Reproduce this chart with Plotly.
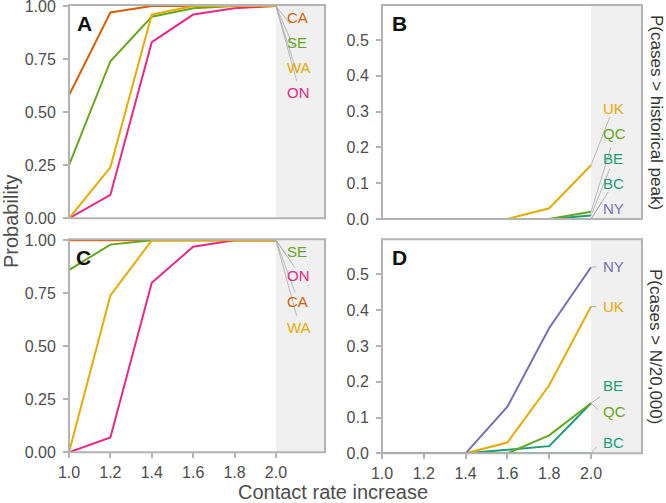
import plotly.graph_objects as go

# ---------------- data ----------------
x_rate = [1.0, 1.2, 1.4, 1.6, 1.8, 2.0]
x_ticks = [1.0, 1.2, 1.4, 1.6, 1.8, 2.0]
y_ticks_left = [0.0, 0.25, 0.5, 0.75, 1.0]
y_ticks_right = [0.0, 0.1, 0.2, 0.3, 0.4, 0.5]

# Panel A: P(cases > historical peak)
peak_CA = [0.58, 0.97, 1.00, 1.00, 1.00, 1.00]
peak_SE = [0.25, 0.74, 0.95, 0.99, 1.00, 1.00]
peak_ON = [0.00, 0.11, 0.83, 0.96, 0.99, 1.00]
peak_WA = [0.00, 0.24, 0.96, 1.00, 1.00, 1.00]
# Panel B: P(cases > historical peak)
peak_NY = [0.00, 0.00, 0.00, 0.00, 0.00, 0.00]
peak_BC = [0.00, 0.00, 0.00, 0.00, 0.00, 0.00]
peak_BE = [0.00, 0.00, 0.00, 0.00, 0.00, 0.01]
peak_QC = [0.00, 0.00, 0.00, 0.00, 0.00, 0.02]
peak_UK = [0.00, 0.00, 0.00, 0.00, 0.03, 0.15]
# Panel C: P(cases > N/20,000)
n20k_CA = [1.00, 1.00, 1.00, 1.00, 1.00, 1.00]
n20k_SE = [0.86, 0.98, 1.00, 1.00, 1.00, 1.00]
n20k_ON = [0.00, 0.07, 0.80, 0.97, 1.00, 1.00]
n20k_WA = [0.00, 0.74, 1.00, 1.00, 1.00, 1.00]
# Panel D: P(cases > N/20,000)
n20k_BC = [0.00, 0.00, 0.00, 0.00, 0.00, 0.00]
n20k_BE = [0.00, 0.00, 0.00, 0.01, 0.02, 0.14]
n20k_QC = [0.00, 0.00, 0.00, 0.00, 0.05, 0.14]
n20k_UK = [0.00, 0.00, 0.00, 0.03, 0.19, 0.41]
n20k_NY = [0.00, 0.00, 0.00, 0.13, 0.35, 0.52]

# ---------------- styles ----------------
COL = {"CA": "#d95f02", "SE": "#66a61e", "WA": "#e6ab02", "ON": "#e7298a",
       "NY": "#7570b3", "BE": "#1b9e77", "BC": "#1b9e77", "QC": "#66a61e",
       "UK": "#e6ab02"}
FONT = "Liberation Sans, Arial, Helvetica, sans-serif"
W, H = 666, 503
FRAME = "#b3b3b3"
SHADE = "#f0f0f0"
TXT = "#4d4d4d"


def px(p):
    return p / W


def py(p):
    return 1 - p / H


# panels: (axis suffix, series dict, label layout {name: (label_y, seg_x, seg_y)})
panels = [
    ("", {"CA": peak_CA, "SE": peak_SE, "ON": peak_ON, "WA": peak_WA},
     {"CA": (0.945, 2.068, 0.915), "SE": (0.828, 2.084, 0.81),
      "WA": (0.711, 2.10, 0.69), "ON": (0.594, 2.10, 0.648)}),
    ("2", {"NY": peak_NY, "BC": peak_BC, "BE": peak_BE, "QC": peak_QC, "UK": peak_UK},
     {"UK": (0.309, 2.09, 0.285), "QC": (0.239, 2.095, 0.20),
      "BE": (0.170, 2.09, 0.14), "BC": (0.100, 2.083, 0.076),
      "NY": (0.030, 2.051, 0.048)}),
    ("3", {"CA": n20k_CA, "SE": n20k_SE, "ON": n20k_ON, "WA": n20k_WA},
     {"SE": (0.946, 2.05, 0.934), "ON": (0.832, 2.092, 0.871),
      "CA": (0.712, 2.092, 0.754), "WA": (0.590, 2.10, 0.645)}),
    ("4", {"BC": n20k_BC, "BE": n20k_BE, "QC": n20k_QC, "UK": n20k_UK, "NY": n20k_NY},
     {"NY": (0.521, 2.027, 0.521), "UK": (0.410, 2.027, 0.410),
      "BE": (0.189, 2.043, 0.158), "QC": (0.118, 2.035, 0.121),
      "BC": (0.031, 2.027, 0.018)}),
]

fig = go.Figure()
shapes = []
annotations = []

for suf, series, labels in panels:
    xa, ya = "x" + suf, "y" + suf
    for name, vals in series.items():
        fig.add_trace(go.Scatter(x=x_rate, y=vals, mode="lines", xaxis=xa, yaxis=ya,
                                 line=dict(color=COL[name], width=2),
                                 showlegend=False, hoverinfo="x+y+name", name=name))
    # shaded region beyond last contact-rate value
    shapes.append(dict(type="rect", xref=xa, yref=ya + " domain", x0=x_rate[-1], x1=2.3,
                       y0=0, y1=1, fillcolor=SHADE, line=dict(width=0), layer="below"))
    # leader segments + labels
    for name, (ly, sx, sy) in labels.items():
        shapes.append(dict(type="line", xref=xa, yref=ya, x0=x_rate[-1], y0=series[name][-1],
                           x1=sx, y1=sy, line=dict(color="#a8a8a8", width=0.8), layer="above"))
        annotations.append(dict(xref=xa, yref=ya, x=2.046, y=ly, text=name, showarrow=False,
                                xanchor="left", yanchor="middle",
                                font=dict(family=FONT, size=15, color=COL[name])))
    # frame
    shapes.append(dict(type="rect", xref=xa + " domain", yref=ya + " domain", x0=0, x1=1,
                       y0=0, y1=1, line=dict(color=FRAME, width=2), fillcolor="rgba(0,0,0,0)",
                       layer="above"))

# panel letters
for letter, lx, ly in [("A", 75, 23), ("B", 390, 23), ("C", 74, 257), ("D", 390, 257)]:
    annotations.append(dict(xref="paper", yref="paper", x=px(lx), y=py(ly), text="<b>%s</b>" % letter,
                            showarrow=False, xanchor="left", yanchor="middle",
                            font=dict(family=FONT, size=21, color="#111111")))

# strip labels on the right
annotations.append(dict(xref="paper", yref="paper", x=px(656), y=py(112),
                        text="P(cases &gt; historical peak)", textangle=90, showarrow=False,
                        xanchor="center", yanchor="middle",
                        font=dict(family=FONT, size=17, color="#333333")))
annotations.append(dict(xref="paper", yref="paper", x=px(656), y=py(346),
                        text="P(cases &gt; N/20,000)", textangle=90, showarrow=False,
                        xanchor="center", yanchor="middle",
                        font=dict(family=FONT, size=17, color="#333333")))
# axis titles
annotations.append(dict(xref="paper", yref="paper", x=px(11), y=py(222), text="Probability",
                        textangle=-90, showarrow=False, xanchor="center", yanchor="middle",
                        font=dict(family=FONT, size=20, color=TXT)))
annotations.append(dict(xref="paper", yref="paper", x=px(333), y=py(492), text="Contact rate increase",
                        showarrow=False, xanchor="center", yanchor="middle",
                        font=dict(family=FONT, size=20, color=TXT)))

tickfont = dict(family=FONT, size=16, color=TXT)
common_x = dict(showgrid=False, zeroline=False, showline=False, tickvals=x_ticks,
                tickformat=".1f", tickfont=tickfont, ticks="outside", ticklen=5,
                tickwidth=1.5, tickcolor=FRAME, fixedrange=True, automargin=False,
                ticklabeloverflow="allow")
common_y = dict(showgrid=False, zeroline=False, showline=False, tickfont=tickfont,
                ticks="outside", ticklen=5, tickwidth=1.5, tickcolor=FRAME,
                ticklabelstandoff=4, fixedrange=True, automargin=False,
                ticklabeloverflow="allow")

xl = [px(69), px(325)]
xr = [px(382), px(642)]

fig.update_layout(
    width=W, height=H, margin=dict(l=0, r=0, t=0, b=0, autoexpand=False),
    paper_bgcolor="white", plot_bgcolor="white",
    font=dict(family=FONT),
    xaxis=dict(common_x, domain=xl, range=[1, 2.237], anchor="y", showticklabels=False, ticks=""),
    yaxis=dict(common_y, domain=[py(218.3), py(5)], range=[0, 1.005], anchor="x",
               tickvals=y_ticks_left, tickformat=".2f"),
    xaxis2=dict(common_x, domain=xr, range=[1, 2.244], anchor="y2", showticklabels=False, ticks=""),
    yaxis2=dict(common_y, domain=[py(219), py(5)], range=[0, 0.598], anchor="x2",
                tickvals=y_ticks_right, tickformat=".1f"),
    xaxis3=dict(common_x, domain=xl, range=[1, 2.237], anchor="y3"),
    yaxis3=dict(common_y, domain=[py(452.3), py(239.3)], range=[0, 1.005], anchor="x3",
                tickvals=y_ticks_left, tickformat=".2f"),
    xaxis4=dict(common_x, domain=xr, range=[1, 2.244], anchor="y4"),
    yaxis4=dict(common_y, domain=[py(453.3), py(239.3)], range=[0, 0.598], anchor="x4",
                tickvals=y_ticks_right, tickformat=".1f"),
    shapes=shapes,
    annotations=annotations,
)

fig.write_html("out.html", config={"displayModeBar": False},
               post_script="document.body.style.margin='0px';")
